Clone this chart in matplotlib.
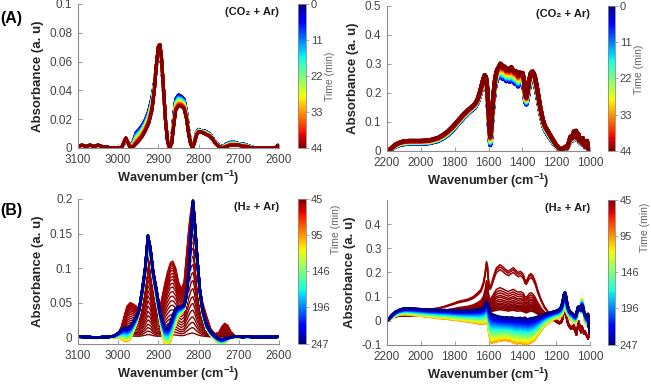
import numpy as np
import matplotlib
matplotlib.use("Agg")
import matplotlib.pyplot as plt
from matplotlib.cm import ScalarMappable
from matplotlib.colors import Normalize

plt.rcParams['font.family'] = ['Liberation Sans', 'DejaVu Sans']
plt.rcParams['mathtext.fontset'] = 'custom'
plt.rcParams['mathtext.rm'] = 'Liberation Sans'
plt.rcParams['mathtext.bf'] = 'Liberation Sans:bold'
plt.rcParams['mathtext.default'] = 'bf'

# ---------------- (A) CO2 + Ar, 3100-2600 cm-1 ----------------
wn_a1 = [3100, 3090, 3080, 3070, 3060, 3050, 3040, 3030, 3020, 3010, 3000, 2992, 2986, 2981,
         2976, 2970, 2962, 2955, 2948, 2940, 2932, 2924, 2916, 2910, 2905, 2900, 2896, 2892,
         2887, 2882, 2877, 2872, 2867, 2862, 2857, 2850, 2843, 2836, 2830, 2825, 2820, 2815,
         2810, 2805, 2800, 2793, 2786, 2779, 2772, 2765, 2758, 2750, 2740, 2730, 2720, 2710,
         2700, 2690, 2680, 2670, 2660, 2650, 2640, 2630, 2620, 2610, 2603, 2600]
# spectrum at t = 0 min (blue)
a1_start = [0.001, 0.002, 0.001, 0.002, 0.001, 0.002, 0.001, 0.001, 0.0, 0.0, 0.0, 0.0, 0.003, 0.006,
            0.003, 0.001, 0.005, 0.011, 0.013, 0.016, 0.020, 0.026, 0.035, 0.045, 0.057, 0.065, 0.066, 0.058,
            0.038, 0.018, 0.005, 0.001, 0.005, 0.022, 0.034, 0.037, 0.036, 0.034, 0.025, 0.013, 0.004, 0.0,
            0.005, 0.011, 0.013, 0.012, 0.012, 0.011, 0.010, 0.007, 0.004, 0.002, 0.001, 0.003, 0.004, 0.004,
            0.003, 0.003, 0.002, 0.001, 0.0, 0.0, 0.0, 0.0, 0.0, 0.0, 0.0, 0.0]
# spectrum at t = 44 min (red)
a1_end = [0.001, 0.002, 0.001, 0.002, 0.001, 0.002, 0.001, 0.001, 0.0, 0.0, 0.0, 0.0, 0.004, 0.007,
          0.004, 0.0, 0.001, 0.003, 0.005, 0.008, 0.012, 0.017, 0.026, 0.040, 0.058, 0.071, 0.072, 0.062,
          0.040, 0.018, 0.004, 0.0, 0.003, 0.015, 0.026, 0.029, 0.029, 0.027, 0.020, 0.010, 0.003, 0.0,
          0.004, 0.009, 0.011, 0.011, 0.010, 0.009, 0.008, 0.006, 0.003, 0.001, 0.0, 0.001, 0.002, 0.002,
          0.002, 0.001, 0.001, 0.0, 0.0, 0.0, 0.0, 0.0, 0.0, 0.0, 0.002, 0.001]

# ---------------- (A) CO2 + Ar, 2200-1000 cm-1 ----------------
wn_a2 = [2200, 2185, 2170, 2150, 2130, 2110, 2090, 2070, 2050, 2000, 1950, 1900, 1870, 1840, 1810,
         1780, 1750, 1720, 1700, 1680, 1665, 1650, 1640, 1630, 1622, 1615, 1608, 1600, 1595, 1590,
         1585, 1578, 1570, 1560, 1550, 1540, 1530, 1522, 1515, 1505, 1495, 1485, 1475, 1465, 1455,
         1445, 1435, 1425, 1415, 1405, 1398, 1390, 1383, 1376, 1368, 1360, 1350, 1340, 1332, 1325,
         1315, 1305, 1295, 1285, 1275, 1265, 1255, 1245, 1235, 1225, 1215, 1205, 1195, 1185, 1175,
         1165, 1155, 1145, 1135, 1125, 1115, 1105, 1095, 1088, 1082, 1076, 1070, 1063, 1056, 1050,
         1043, 1036, 1030, 1024, 1018, 1012, 1006, 1000]
a2_start = [0.0, 0.002, 0.008, 0.015, 0.020, 0.023, 0.024, 0.025, 0.025, 0.025, 0.027, 0.034, 0.043, 0.055, 0.072,
            0.092, 0.112, 0.130, 0.140, 0.150, 0.165, 0.192, 0.215, 0.235, 0.245, 0.240, 0.200, 0.120, 0.060, 0.020,
            0.040, 0.110, 0.170, 0.225, 0.245, 0.252, 0.258, 0.255, 0.248, 0.250, 0.240, 0.245, 0.238, 0.245, 0.240,
            0.232, 0.235, 0.222, 0.232, 0.228, 0.230, 0.210, 0.168, 0.160, 0.180, 0.215, 0.240, 0.248, 0.240, 0.230,
            0.200, 0.168, 0.135, 0.108, 0.085, 0.070, 0.060, 0.050, 0.042, 0.034, 0.026, 0.018, 0.012, 0.008, 0.005,
            0.004, 0.007, 0.010, 0.009, 0.022, 0.040, 0.036, 0.055, 0.042, 0.058, 0.038, 0.050, 0.030, 0.034, 0.025,
            0.038, 0.016, 0.025, 0.012, 0.030, 0.008, 0.012, 0.0]
a2_end = [0.0, 0.004, 0.012, 0.022, 0.028, 0.032, 0.034, 0.035, 0.035, 0.035, 0.037, 0.045, 0.055, 0.068, 0.085,
          0.105, 0.125, 0.142, 0.152, 0.163, 0.178, 0.205, 0.228, 0.250, 0.262, 0.255, 0.220, 0.150, 0.090, 0.050,
          0.070, 0.140, 0.200, 0.255, 0.280, 0.290, 0.302, 0.298, 0.288, 0.292, 0.280, 0.285, 0.278, 0.290, 0.280,
          0.272, 0.275, 0.260, 0.272, 0.265, 0.270, 0.245, 0.195, 0.185, 0.210, 0.245, 0.270, 0.275, 0.268, 0.255,
          0.225, 0.190, 0.155, 0.125, 0.100, 0.085, 0.075, 0.065, 0.055, 0.045, 0.035, 0.025, 0.018, 0.012, 0.008,
          0.006, 0.010, 0.015, 0.012, 0.030, 0.050, 0.045, 0.068, 0.050, 0.070, 0.045, 0.060, 0.035, 0.040, 0.030,
          0.045, 0.020, 0.030, 0.015, 0.035, 0.010, 0.015, 0.0]
times_a = np.arange(0, 45)

# ---------------- (B) H2 + Ar, 3100-2600 cm-1 ----------------
wn_b1 = [3100, 3085, 3070, 3055, 3040, 3025, 3010, 3000, 2992, 2985, 2978, 2970, 2963, 2955, 2948,
         2940, 2933, 2926, 2920, 2913, 2905, 2897, 2890, 2883, 2877, 2870, 2864, 2857, 2850, 2843,
         2836, 2830, 2824, 2818, 2814, 2810, 2804, 2797, 2790, 2780, 2770, 2760, 2750, 2742, 2735,
         2728, 2720, 2710, 2700, 2690, 2680, 2665, 2650, 2635, 2620, 2610, 2600]
# envelope of the early (dark red) spectra
b1_red = [0.0, 0.0, 0.0, 0.0, 0.0, 0.0, 0.0, 0.005, 0.015, 0.030, 0.045, 0.050, 0.048, 0.045, 0.040,
          0.060, 0.090, 0.125, 0.110, 0.070, 0.045, 0.040, 0.060, 0.080, 0.095, 0.108, 0.110, 0.100, 0.080, 0.070,
          0.080, 0.120, 0.160, 0.190, 0.195, 0.170, 0.120, 0.075, 0.050, 0.030, 0.012, 0.005, 0.006, 0.015, 0.020,
          0.017, 0.008, 0.002, 0.0, 0.0, 0.0, 0.0, 0.0, 0.0, 0.0, 0.0, 0.0]
red_scale_b1 = [0.03, 0.07, 0.11, 0.15, 0.2, 0.25, 0.3, 0.36, 0.42, 0.48, 0.54, 0.6, 0.66, 0.71,
                0.76, 0.8, 0.84, 0.88, 0.91, 0.94, 0.96, 0.98, 1.0]
# spectrum at ~95 min (orange) and at 247 min (blue)
b1_mid = [0.0, 0.0, 0.0, -0.001, 0.0, 0.0, 0.0, 0.0, -0.002, -0.005, -0.006, -0.002, 0.008, 0.020, 0.035,
          0.060, 0.090, 0.130, 0.120, 0.085, 0.055, 0.030, 0.005, -0.010, -0.012, -0.005, 0.008, 0.020, 0.030, 0.035,
          0.040, 0.055, 0.090, 0.150, 0.185, 0.160, 0.110, 0.060, 0.032, 0.012, 0.003, -0.003, -0.008, -0.010, -0.008,
          -0.004, -0.001, 0.0, 0.0, 0.0, 0.0, 0.0, 0.0, 0.0, 0.0, 0.0, 0.0]
b1_end = [0.001, 0.0, 0.0, -0.001, 0.0, 0.0, 0.002, 0.006, 0.011, 0.014, 0.013, 0.016, 0.022, 0.030, 0.040,
          0.070, 0.100, 0.148, 0.130, 0.095, 0.070, 0.040, 0.025, 0.014, 0.014, 0.022, 0.032, 0.042, 0.044, 0.044,
          0.047, 0.062, 0.100, 0.160, 0.198, 0.170, 0.120, 0.070, 0.040, 0.018, 0.008, 0.002, -0.002, -0.003, -0.002,
          -0.001, 0.0, 0.001, 0.001, 0.0, 0.001, 0.0, 0.0, 0.0, 0.0, 0.0, 0.001]

# ---------------- (B) H2 + Ar, 2200-1000 cm-1 ----------------
wn_b2 = [2200, 2185, 2170, 2150, 2130, 2110, 2090, 2070, 2050, 2020, 1990, 1960, 1930, 1900, 1870,
         1840, 1810, 1780, 1750, 1720, 1690, 1665, 1645, 1630, 1620, 1612, 1606, 1600, 1594, 1587,
         1580, 1572, 1563, 1553, 1543, 1533, 1523, 1513, 1503, 1493, 1483, 1473, 1463, 1453, 1443,
         1433, 1423, 1413, 1403, 1393, 1385, 1377, 1369, 1360, 1350, 1340, 1330, 1320, 1310, 1300,
         1290, 1280, 1270, 1260, 1250, 1240, 1230, 1220, 1210, 1200, 1190, 1180, 1170, 1162, 1155,
         1148, 1142, 1135, 1127, 1118, 1110, 1102, 1095, 1088, 1080, 1073, 1066, 1060, 1054, 1048,
         1042, 1036, 1030, 1024, 1018, 1012, 1006, 1000]
b2_red_low = [0.0, 0.006, 0.012, 0.016, 0.019, 0.020, 0.020, 0.020, 0.021, 0.022, 0.023, 0.024, 0.025, 0.026, 0.027,
              0.028, 0.029, 0.030, 0.031, 0.032, 0.034, 0.037, 0.040, 0.045, 0.060, 0.090, 0.085, 0.060, 0.045, 0.040,
              0.040, 0.040, 0.042, 0.043, 0.045, 0.046, 0.045, 0.044, 0.043, 0.042, 0.040, 0.042, 0.043, 0.044, 0.042,
              0.040, 0.040, 0.041, 0.040, 0.038, 0.035, 0.033, 0.035, 0.038, 0.040, 0.039, 0.036, 0.032, 0.028, 0.024,
              0.020, 0.017, 0.014, 0.012, 0.010, 0.008, 0.006, 0.004, 0.0, -0.005, -0.010, -0.012, -0.008, 0.005, 0.030,
              0.040, 0.020, -0.005, -0.020, -0.030, -0.035, -0.030, -0.030, -0.045, -0.060, -0.030, -0.010, -0.030, -0.050, -0.030,
              -0.040, -0.055, -0.050, -0.060, -0.065, -0.075, -0.065, -0.055]
b2_red_high = [0.0, 0.010, 0.020, 0.030, 0.036, 0.040, 0.042, 0.043, 0.044, 0.045, 0.046, 0.048, 0.050, 0.053, 0.058,
               0.065, 0.072, 0.080, 0.085, 0.090, 0.100, 0.115, 0.130, 0.160, 0.200, 0.245, 0.230, 0.170, 0.140, 0.145,
               0.160, 0.180, 0.200, 0.220, 0.225, 0.232, 0.228, 0.222, 0.215, 0.210, 0.205, 0.210, 0.215, 0.220, 0.212,
               0.205, 0.200, 0.205, 0.200, 0.190, 0.170, 0.165, 0.175, 0.190, 0.195, 0.190, 0.175, 0.155, 0.130, 0.110,
               0.090, 0.075, 0.060, 0.050, 0.040, 0.030, 0.025, 0.020, 0.012, 0.005, 0.0, -0.005, 0.0, 0.020, 0.050,
               0.060, 0.040, 0.010, -0.010, -0.020, -0.025, -0.020, -0.015, -0.030, -0.050, -0.020, 0.0, -0.020, -0.040, -0.020,
               -0.030, -0.045, -0.040, -0.050, -0.060, -0.070, -0.060, -0.050]
red_frac_b2 = [0.0, 0.03, 0.06, 0.09, 0.12, 0.15, 0.19, 0.23, 0.28, 0.32, 0.375, 0.43, 0.49, 0.89, 0.95, 1.0]
b2_mid = [0.0, 0.005, 0.012, 0.020, 0.025, 0.027, 0.027, 0.026, 0.025, 0.022, 0.020, 0.017, 0.015, 0.012, 0.010,
          0.008, 0.005, 0.003, 0.0, -0.003, -0.006, -0.010, -0.012, -0.012, -0.008, 0.0, -0.005, -0.030, -0.060, -0.080,
          -0.092, -0.088, -0.085, -0.087, -0.082, -0.080, -0.082, -0.080, -0.078, -0.080, -0.083, -0.080, -0.085, -0.090, -0.088,
          -0.095, -0.090, -0.093, -0.090, -0.097, -0.085, -0.095, -0.098, -0.092, -0.090, -0.085, -0.080, -0.070, -0.060, -0.050,
          -0.040, -0.030, -0.022, -0.015, -0.010, -0.005, 0.0, 0.005, 0.008, 0.010, 0.012, 0.015, 0.020, 0.030, 0.050,
          0.060, 0.050, 0.030, 0.020, 0.010, 0.005, 0.0, -0.005, -0.010, 0.0, 0.040, 0.050, 0.040, 0.035, 0.090,
          0.070, 0.030, 0.0, -0.010, -0.020, -0.010, -0.030, -0.040]
b2_end = [0.0, 0.012, 0.025, 0.038, 0.045, 0.050, 0.052, 0.052, 0.051, 0.050, 0.048, 0.047, 0.046, 0.046, 0.045,
          0.045, 0.044, 0.043, 0.043, 0.044, 0.045, 0.047, 0.050, 0.055, 0.065, 0.080, 0.078, 0.060, 0.045, 0.035,
          0.030, 0.027, 0.025, 0.022, 0.020, 0.018, 0.017, 0.016, 0.015, 0.016, 0.015, 0.014, 0.016, 0.014, 0.012,
          0.013, 0.012, 0.014, 0.012, 0.010, 0.015, 0.010, 0.008, 0.010, 0.012, 0.013, 0.014, 0.016, 0.018, 0.020,
          0.022, 0.025, 0.028, 0.030, 0.032, 0.034, 0.036, 0.038, 0.040, 0.042, 0.045, 0.050, 0.060, 0.080, 0.110,
          0.120, 0.105, 0.075, 0.050, 0.040, 0.035, 0.030, 0.025, 0.020, 0.030, 0.055, 0.060, 0.050, 0.045, 0.062,
          0.055, 0.040, 0.030, 0.020, 0.010, 0.030, -0.020, -0.050]

times_b_red = np.linspace(45, 52, 23)
times_b_late = np.arange(95, 248, 3)

TICK_GRAY = '#8c8c8c'
LABEL_GRAY = '#444444'


def mix(a, b, f):
    return (1 - f) * np.asarray(a) + f * np.asarray(b)


def style_axes(ax, xlim, xticks, ylim, yticks, ylabels, title):
    ax.set_xlim(xlim)
    ax.set_xticks(xticks)
    ax.set_xticklabels([str(v) for v in xticks])
    ax.set_ylim(ylim)
    ax.set_yticks(yticks)
    ax.set_yticklabels(ylabels)
    for s in ['top', 'right']:
        ax.spines[s].set_visible(False)
    for s in ['left', 'bottom']:
        ax.spines[s].set_color(TICK_GRAY)
        ax.spines[s].set_linewidth(0.8)
    ax.tick_params(direction='in', length=3, width=0.6, colors=TICK_GRAY,
                   labelcolor=LABEL_GRAY, labelsize=8.5)
    ax.tick_params(axis='x', pad=4.5)
    ax.tick_params(axis='y', pad=4)
    ax.set_xlabel('Wavenumber (cm$^{-1}$)', fontsize=9.2, fontweight='bold', color='#262626', labelpad=1.5)
    ax.set_ylabel('Absorbance (a. u)', fontsize=9.5, fontweight='bold', color='#262626', labelpad=4)
    ax.text(1.0, 0.945, title, transform=ax.transAxes, ha='right', va='center',
            fontsize=8, fontweight='bold', color='#1a1a1a')


def add_cbar(fig, rect, norm, cmap, ticks, label_y):
    cax = fig.add_axes(rect)
    sm = ScalarMappable(norm=norm, cmap=cmap)
    cb = fig.colorbar(sm, cax=cax, ticks=ticks)
    cax.invert_yaxis()
    cb.outline.set_edgecolor(TICK_GRAY)
    cb.outline.set_linewidth(0.6)
    cax.tick_params(length=2, width=0.5, colors=TICK_GRAY, labelcolor=LABEL_GRAY, labelsize=8, pad=1.5)
    cb.set_label('Time (min)', fontsize=7.5, color='#666666', labelpad=1)
    cax.yaxis.label.set_y(label_y)
    return cb


fig = plt.figure(figsize=(6.51, 3.84), dpi=100)

ax1 = fig.add_axes([0.1198, 0.6146, 0.3088, 0.375])
ax2 = fig.add_axes([0.5945, 0.6068, 0.3118, 0.3776])
ax3 = fig.add_axes([0.1198, 0.1042, 0.3088, 0.3776])
ax4 = fig.add_axes([0.5945, 0.1016, 0.3118, 0.3776])

# (A) colours: jet, 0 min blue -> 44 min red
norm_a = Normalize(0, 44)
cmap_a = plt.get_cmap('jet')
for t in times_a:
    f = t / 44.0
    c = cmap_a(norm_a(t))
    ax1.plot(wn_a1, mix(a1_start, a1_end, f), color=c, lw=2.2, solid_joinstyle='round')
    ax2.plot(wn_a2, mix(a2_start, a2_end, f), color=c, lw=3.0, solid_joinstyle='round')

# (B) colours: jet reversed, 45 min dark red -> 247 min dark blue
norm_b = Normalize(45, 247)
cmap_b = plt.get_cmap('jet_r')
for t, s in zip(times_b_red, red_scale_b1):
    ax3.plot(wn_b1, s * np.asarray(b1_red), color=cmap_b(norm_b(t)), lw=1.0)
for t, f in zip(times_b_red, red_frac_b2):
    ax4.plot(wn_b2, mix(b2_red_low, b2_red_high, f), color=cmap_b(norm_b(t)), lw=1.1)
for t in times_b_late:
    f = (t - 95) / (247 - 95)
    c = cmap_b(norm_b(t))
    ax3.plot(wn_b1, mix(b1_mid, b1_end, f), color=c, lw=1.8, solid_joinstyle='round')
    ax4.plot(wn_b2, mix(b2_mid, b2_end, f), color=c, lw=1.8, solid_joinstyle='round')

style_axes(ax1, (3100, 2600), [3100, 3000, 2900, 2800, 2700, 2600], (0, 0.1),
           [0, 0.02, 0.04, 0.06, 0.08, 0.1], ['0', '0.02', '0.04', '0.06', '0.08', '0.1'],
           '(CO\u2082 + Ar)')
style_axes(ax2, (2200, 1000), [2200, 2000, 1800, 1600, 1400, 1200, 1000], (0, 0.5),
           [0, 0.1, 0.2, 0.3, 0.4, 0.5], ['0', '0.1', '0.2', '0.3', '0.4', '0.5'],
           '(CO\u2082 + Ar)')
style_axes(ax3, (3100, 2600), [3100, 3000, 2900, 2800, 2700, 2600], (-0.01, 0.2),
           [0, 0.05, 0.1, 0.15, 0.2], ['0', '0.05', '0.1', '0.15', '0.2'],
           '(H\u2082 + Ar)')
style_axes(ax4, (2200, 1000), [2200, 2000, 1800, 1600, 1400, 1200, 1000], (-0.1, 0.5),
           [-0.1, 0, 0.1, 0.2, 0.3, 0.4], ['-0.1', '0', '0.1', '0.2', '0.3', '0.4'],
           '(H\u2082 + Ar)')

add_cbar(fig, [0.4578, 0.6146, 0.0123, 0.375], norm_a, cmap_a, [0, 11, 22, 33, 44], 0.5)
add_cbar(fig, [0.934, 0.6068, 0.0108, 0.3776], norm_a, cmap_a, [0, 11, 22, 33, 44], 0.56)
add_cbar(fig, [0.4578, 0.1042, 0.0123, 0.3776], norm_b, cmap_b, [45, 95, 146, 196, 247], 0.79)
add_cbar(fig, [0.934, 0.1016, 0.0108, 0.3776], norm_b, cmap_b, [45, 95, 146, 196, 247], 0.81)

fig.text(0.0, 1 - 18 / 384, '(A)', fontsize=11.5, fontweight='bold', va='center', ha='left')
fig.text(0.0, 1 - 210 / 384, '(B)', fontsize=11.5, fontweight='bold', va='center', ha='left')

fig.savefig('out.png', dpi=100)
